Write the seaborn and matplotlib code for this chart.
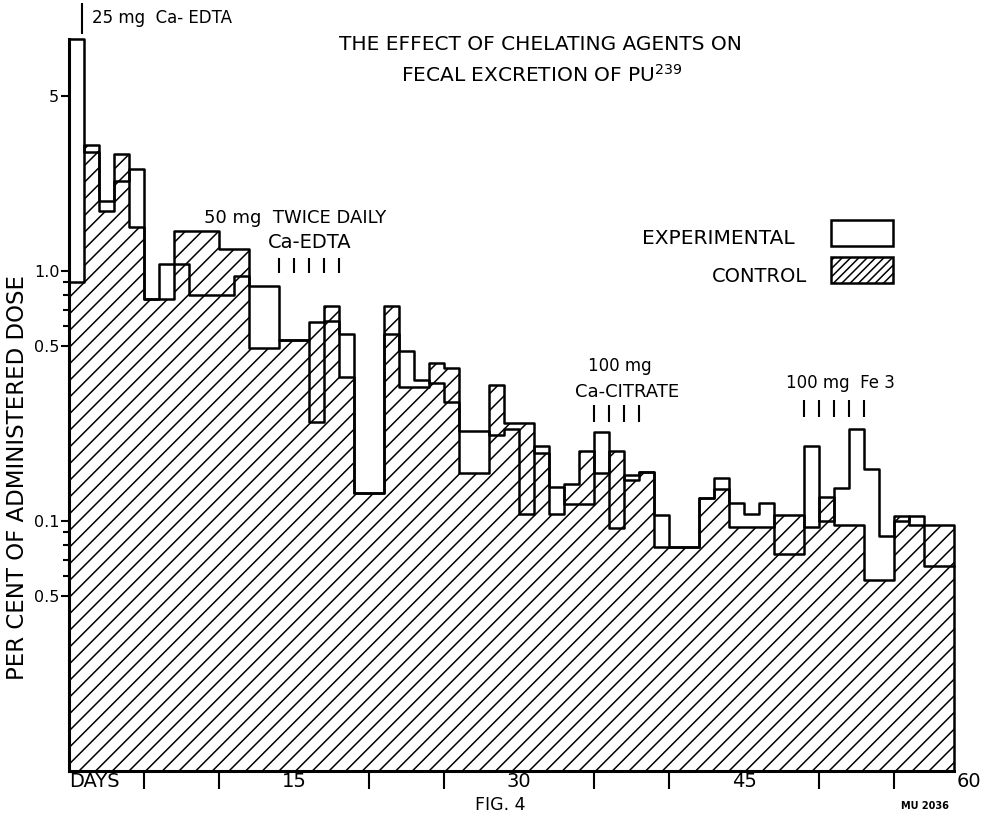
import numpy as np
import pandas as pd
import matplotlib
matplotlib.use("Agg")
import matplotlib.pyplot as plt
from matplotlib.patches import Rectangle
from matplotlib.ticker import NullFormatter
import seaborn as sns

# daily fecal excretion, per cent of administered dose (days 0..58)
days = np.arange(59)
experimental = [8.5, 3.0, 1.9, 2.3, 2.55, 0.77, 1.07, 1.07, 0.80, 0.80,
                0.80, 0.955, 0.87, 0.87, 0.53, 0.53, 0.25, 0.63, 0.56, 0.129,
                0.129, 0.56, 0.48, 0.365, 0.355, 0.30, 0.23, 0.23, 0.22, 0.233,
                0.107, 0.20, 0.137, 0.117, 0.117, 0.227, 0.094, 0.153, 0.157, 0.106,
                0.079, 0.079, 0.124, 0.148, 0.118, 0.107, 0.118, 0.074, 0.074, 0.20,
                0.10, 0.136, 0.233, 0.161, 0.087, 0.10, 0.105, 0.066, 0.066]
control = [0.906, 3.19, 1.73, 2.94, 1.50, 0.77, 0.77, 1.45, 1.45, 1.45,
           1.23, 1.23, 0.49, 0.49, 0.53, 0.53, 0.627, 0.724, 0.376, 0.129,
           0.129, 0.724, 0.344, 0.344, 0.43, 0.41, 0.155, 0.155, 0.35, 0.247,
           0.247, 0.187, 0.107, 0.14, 0.19, 0.155, 0.19, 0.146, 0.157, 0.079,
           0.079, 0.079, 0.124, 0.134, 0.095, 0.095, 0.095, 0.106, 0.106, 0.095,
           0.125, 0.096, 0.096, 0.058, 0.058, 0.105, 0.096, 0.096, 0.096]

ytick_vals = [5, 1.0, 0.5, 0.1, 0.05]
ytick_labels = ["5", "1.0", "0.5", "0.1", "0.5"]
yminor_vals = [0.06, 0.07, 0.08, 0.09, 0.6, 0.7, 0.8, 0.9]
xlabel_vals = [0, 15, 30, 45, 60]
xlabel_text = ["DAYS", "15", "30", "45", "60"]
xmark_vals = [5, 10, 20, 25, 35, 40, 50, 55]

# dosing marks (days)
edta_single = [0.87]
edta_twice = [14, 15, 16, 17, 18]
citrate_days = [35, 36, 37, 38]
iron_days = [49, 50, 51, 52, 53]

W, H = 986, 819
sns.set_style("ticks")
plt.rcParams['font.family'] = ['DejaVu Sans']
plt.rcParams['hatch.linewidth'] = 1.1
plt.rcParams['hatch.color'] = 'black'
for k in ['text.color', 'axes.labelcolor', 'xtick.color', 'ytick.color', 'axes.edgecolor']:
    plt.rcParams[k] = 'black'

fig = plt.figure(figsize=(W / 100, H / 100), dpi=100)
ax = fig.add_axes([69 / W, 1 - 771 / H, 900 / W, 750 / H])

df = pd.DataFrame({"day": days, "exp": experimental, "ctrl": control})

sns.histplot(data=df, x="day", weights="ctrl", binwidth=1, binrange=(0, 59),
             element="step", fill=True, facecolor="white", edgecolor="black",
             hatch="//", linewidth=1.8, ax=ax, zorder=2)
sns.histplot(data=df, x="day", weights="exp", binwidth=1, binrange=(0, 59),
             element="step", fill=False, color="black", linewidth=1.8,
             ax=ax, zorder=3)

ax.set_yscale("log")
ax.set_ylim(0.01, 10)
ax.set_xlim(0, 60)

ax.set_yticks(ytick_vals)
ax.set_yticklabels(ytick_labels, fontsize=11.5)
ax.set_yticks(yminor_vals, minor=True)
ax.yaxis.set_minor_formatter(NullFormatter())
ax.tick_params(axis="y", which="major", direction="out", length=6, width=1.5, pad=1)
ax.tick_params(axis="y", which="minor", direction="out", length=4, width=1.5)

ax.set_xticks(xlabel_vals)
ax.set_xticklabels(xlabel_text, fontsize=14)
ax.set_xticks(xmark_vals, minor=True)
ax.xaxis.set_minor_formatter(NullFormatter())
ax.tick_params(axis="x", which="major", length=0, pad=1)
ax.tick_params(axis="x", which="minor", direction="out", length=13, width=1.5)
ax.get_xticklabels()[0].set_horizontalalignment("left")

ax.set_xlabel("")
ax.set_ylabel("")
sns.despine(ax=ax)
for s in ["left", "bottom"]:
    ax.spines[s].set_linewidth(2.2)
ax.spines["left"].set_bounds(0.01, max(experimental))
ax.spines["bottom"].set_bounds(0, len(days))


def ftext(x, y, s, **kw):
    fig.text(x / W, 1 - y / H, s, **kw)


ftext(18, 478, "PER CENT OF ADMINISTERED DOSE", rotation=90, fontsize=16.5,
      ha="center", va="center")
ftext(540, 45, "THE EFFECT OF CHELATING AGENTS ON", fontsize=14.5, ha="center", va="center")
ftext(542, 75, "FECAL EXCRETION OF PU$^{239}$", fontsize=14.5, ha="center", va="center")

# dose annotations
ax.vlines(edta_single, 8.9, 11.8, color="black", lw=1.5, clip_on=False)
ftext(92, 18, "25 mg  Ca- EDTA", fontsize=12, ha="left", va="center")
ftext(295, 218, "50 mg  TWICE DAILY", fontsize=13, ha="center", va="center")
ftext(310, 243, "Ca-EDTA", fontsize=14, ha="center", va="center")
ax.vlines(edta_twice, 0.98, 1.13, color="black", lw=1.5)
ftext(620, 366, "100 mg", fontsize=12, ha="center", va="center")
ftext(627, 392, "Ca-CITRATE", fontsize=13, ha="center", va="center")
ax.vlines(citrate_days, 0.25, 0.29, color="black", lw=1.5)
ftext(840, 383, "100 mg  Fe 3", fontsize=12, ha="center", va="center")
ax.vlines(iron_days, 0.26, 0.305, color="black", lw=1.5)

# legend
ftext(795, 238, "EXPERIMENTAL", fontsize=14.5, ha="right", va="center")
ftext(807, 277, "CONTROL", fontsize=14, ha="right", va="center")
fig.add_artist(Rectangle((831 / W, 1 - 246 / H), 62 / W, 26 / H,
                         transform=fig.transFigure, facecolor="white",
                         edgecolor="black", lw=1.8))
fig.add_artist(Rectangle((831 / W, 1 - 283 / H), 62 / W, 26 / H,
                         transform=fig.transFigure, facecolor="white",
                         edgecolor="black", lw=1.8, hatch="////"))

ftext(500, 805, "FIG. 4", fontsize=12.5, ha="center", va="center")
ftext(925, 806, "MU 2036", fontsize=7, ha="center", va="center", fontweight="bold")

fig.savefig("out.png", dpi=100)
